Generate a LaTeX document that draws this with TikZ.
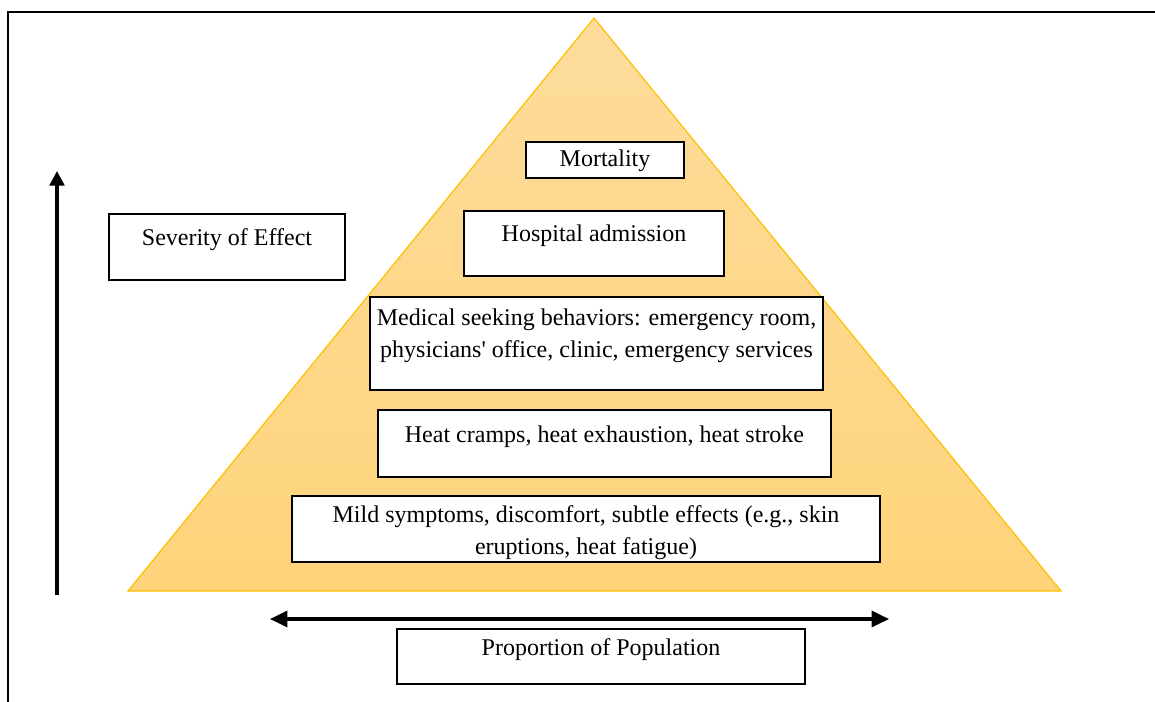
\documentclass[tikz,border=0pt]{standalone}
\usepackage{fontspec}
\setmainfont{Liberation Serif}
\usetikzlibrary{arrows.meta}
\definecolor{pyrfillTop}{HTML}{FDDC9C}
\definecolor{pyrfillBot}{HTML}{FED37A}
\definecolor{pyrline}{HTML}{FFC000}
\tikzset{
  box/.style={draw=black, line width=1.6pt, fill=white, inner sep=0pt},
  txt/.style={font=\fontsize{18}{24}\selectfont, align=center, inner sep=0pt},
  axis/.style={line width=2.4pt, -{Triangle[width=11pt,length=11pt]}},
  haxis/.style={line width=2.4pt, {Triangle[width=12pt,length=13pt]}-{Triangle[width=12pt,length=13pt]}}
}
\begin{document}
\begin{tikzpicture}[x=0.75pt,y=-0.75pt]
\useasboundingbox (0,0) rectangle (1155,702);
% outer frame
\draw[line width=2.2pt] (8,710) -- (8,12) -- (1165,12);
% pyramid
\path[top color=pyrfillTop, bottom color=pyrfillBot, draw=pyrline, line width=0.9pt]
  (594,18) -- (1061,591) -- (128,591) -- cycle;
% boxes
\node[box, minimum width=158*0.75pt, minimum height=36*0.75pt] (mort) at (605,160) {};
\node[txt] (mortt) at (605,160.5) {Mortality};
\node[box, minimum width=260*0.75pt, minimum height=65*0.75pt] (hosp) at (594,243.5) {};
\node[txt] (hospt) at (594,235.5) {Hospital admission};
\node[box, minimum width=453*0.75pt, minimum height=93*0.75pt] (med) at (596.5,343.5) {};
\node[txt] (medt) at (596.5,335.5) {Medical seeking behaviors: emergency room,\\physicians\textquotesingle\ office, clinic, emergency services};
\node[box, minimum width=453*0.75pt, minimum height=67*0.75pt] (heat) at (604.5,443.5) {};
\node[txt] (heatt) at (604.5,436.5) {Heat cramps, heat exhaustion, heat stroke};
\node[box, minimum width=588*0.75pt, minimum height=66*0.75pt] (mild) at (586,529) {};
\node[txt] (mildt) at (586,532.5) {Mild symptoms, discomfort, subtle effects (e.g., skin\\eruptions, heat fatigue)};
\node[box, minimum width=236*0.75pt, minimum height=66*0.75pt] (sev) at (227,247) {};
\node[txt] (sevt) at (227,239.5) {Severity of Effect};
\node[box, minimum width=408*0.75pt, minimum height=55*0.75pt] (prop) at (601,656.5) {};
\node[txt] (propt) at (601,649.5) {Proportion of Population};
% axes
\coordinate (vbot) at (57,595);
\coordinate (vtop) at (57,171);
\coordinate (hl) at (270,619);
\coordinate (hr) at (889,619);
\draw[axis] (vbot) -- (vtop);
\draw[haxis] (hl) -- (hr);
\end{tikzpicture}
\end{document}
